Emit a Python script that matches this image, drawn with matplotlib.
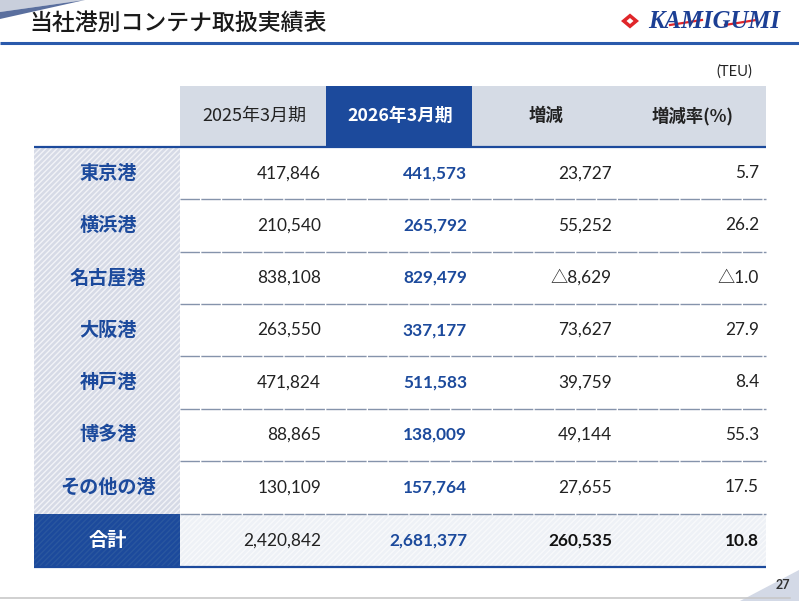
import matplotlib
matplotlib.use("Agg")
import matplotlib.pyplot as plt
from matplotlib.patches import Rectangle, Polygon

plt.rcParams['font.family'] = ['Noto Sans CJK JP', 'DejaVu Sans']

title = "当社港別コンテナ取扱実績表"
unit = "(TEU)"
headers = ["2025年3月期", "2026年3月期", "増減", "増減率(%)"]
ports = ["東京港", "横浜港", "名古屋港", "大阪港", "神戸港", "博多港", "その他の港"]
fy2025 = ["417,846", "210,540", "838,108", "263,550", "471,824", "88,865", "130,109"]
fy2026 = ["441,573", "265,792", "829,479", "337,177", "511,583", "138,009", "157,764"]
change = ["23,727", "55,252", "△8,629", "73,627", "39,759", "49,144", "27,655"]
rate = ["5.7", "26.2", "△1.0", "27.9", "8.4", "55.3", "17.5"]
total_label = "合計"
total_row = ["2,420,842", "2,681,377", "260,535", "10.8"]
page = "27"

DARK = "#1c4a9c"
GRAYHDR = "#d5dbe5"
NUMFONT = ['Lato', 'Noto Sans CJK JP', 'DejaVu Sans']

fig = plt.figure(figsize=(7.99, 6.01), dpi=100)
ax = fig.add_axes([0, 0, 1, 1])
ax.set_xlim(0, 799)
ax.set_ylim(601, 0)
ax.axis('off')

# top-left decoration
ax.add_patch(Polygon([(0, 0), (85, 0), (0, 12)], closed=True, color="#c9cfdc", lw=0))
ax.add_patch(Polygon([(0, 12), (85, 0), (0, 19)], closed=True, color="#5a6f9e", lw=0))

# title
ax.text(29, 23, title, fontsize=16.5, fontweight='medium', color="#1a1a1a", va='center', ha='left')
# header line
ax.plot([0, 799], [43, 43], color="#2a5aac", lw=2.2, solid_capstyle='butt')

# logo
ax.add_patch(Polygon([(621, 21), (630, 13.5), (639, 21), (630, 28.5)], closed=True, color="#e0262a", lw=0))
ax.add_patch(Polygon([(626.5, 21), (630, 18), (633.5, 21), (630, 24)], closed=True, color="white", lw=0))
ax.text(648, 21, "KAMIGUMI", fontsize=17.8, fontweight='bold', fontstyle='italic',
        family=['Liberation Serif', 'DejaVu Serif'], color="#1c3f94", va='center', ha='left')
ax.plot([670, 702], [25, 20], color="#e0262a", lw=1.6)
ax.plot([725, 756], [25, 20], color="#e0262a", lw=1.6)

# unit
ax.text(752, 72, unit, fontsize=10.5, color="#222222", va='center', ha='right', family=NUMFONT)

# table geometry
xs = [34, 180, 326, 472, 620, 766]
hdr_top, hdr_bot = 86, 147
row_h = 52.3
total_top = 514
total_bot = 567
row_edges = [hdr_bot + i * row_h for i in range(len(ports))] + [total_top]

# header cells
hdr_colors = [GRAYHDR, DARK, GRAYHDR, GRAYHDR]
for i in range(4):
    ax.add_patch(Rectangle((xs[i + 1], hdr_top), xs[i + 2] - xs[i + 1], hdr_bot - hdr_top,
                           facecolor=hdr_colors[i], lw=0))
hdr_cx = [254, 400, 546, 693]
for i, h in enumerate(headers):
    if i == 0:
        ax.text(hdr_cx[i], 116, h, fontsize=13, color="#222222", va='center', ha='center')
    elif i == 1:
        ax.text(hdr_cx[i], 116, h, fontsize=12.8, color="white", fontweight='bold', va='center', ha='center')
    else:
        ax.text(hdr_cx[i], 116, h, fontsize=12.5, color="#222222", fontweight='bold', va='center', ha='center')

# left column hatched
plt.rcParams['hatch.linewidth'] = 1.0
ax.add_patch(Rectangle((xs[0], hdr_bot), xs[1] - xs[0], total_top - hdr_bot,
                       facecolor="#d6dae6", edgecolor="#f2f3f7", hatch='//////', lw=0))
# total row
ax.add_patch(Rectangle((xs[0], total_top), xs[1] - xs[0], total_bot - total_top,
                       facecolor=DARK, edgecolor="#2a579f", hatch='//////', lw=0))
ax.add_patch(Rectangle((xs[1], total_top), xs[5] - xs[1], total_bot - total_top,
                       facecolor="#eef1f6", edgecolor="#f8f9fb", hatch='//////', lw=0))

# separators
for y in row_edges[1:]:
    ax.plot([xs[1], xs[5]], [y, y], color="#8593ab", lw=1.0, ls=(0, (14, 1)))
ax.plot([xs[0], xs[5]], [hdr_bot, hdr_bot], color="#1c4a9c", lw=1.6, solid_capstyle='butt')
ax.plot([xs[0], xs[5]], [total_bot, total_bot], color="#1c4a9c", lw=1.6, solid_capstyle='butt')

right_x = [321, 467, 612, 759]
NS = 12.4
for r, port in enumerate(ports):
    cy = row_edges[r] + (row_edges[r + 1] - row_edges[r]) / 2
    ax.text(108, cy, port, fontsize=13.8, color="#1c4a9c", fontweight='bold', va='center', ha='center')
    ax.text(right_x[0], cy, fy2025[r], fontsize=NS, color="#222222", va='center', ha='right', family=NUMFONT)
    ax.text(right_x[1], cy, fy2026[r], fontsize=NS, color="#1c4a9c", fontweight='bold', va='center', ha='right', family=NUMFONT)
    ax.text(right_x[2], cy, change[r], fontsize=NS, color="#222222", va='center', ha='right', family=NUMFONT)
    ax.text(right_x[3], cy, rate[r], fontsize=NS, color="#222222", va='center', ha='right', family=NUMFONT)

cy = (total_top + total_bot) / 2
ax.text(108, cy, total_label, fontsize=13.8, color="white", fontweight='bold', va='center', ha='center')
ax.text(right_x[0], cy, total_row[0], fontsize=NS, color="#222222", va='center', ha='right', family=NUMFONT)
ax.text(right_x[1], cy, total_row[1], fontsize=NS, color="#1c4a9c", fontweight='bold', va='center', ha='right', family=NUMFONT)
ax.text(right_x[2], cy, total_row[2], fontsize=NS, color="#111111", fontweight='bold', va='center', ha='right', family=NUMFONT)
ax.text(right_x[3], cy, total_row[3], fontsize=NS, color="#111111", fontweight='bold', va='center', ha='right', family=NUMFONT)

# bottom decorations
ax.add_patch(Polygon([(740, 601), (799, 570), (799, 601)], closed=True, color="#d3d9e6", lw=0))
ax.plot([0, 790], [598, 598], color="#c8c8c8", lw=1.2)
ax.text(783, 585, page, fontsize=9, color="#333333", fontweight='bold', va='center', ha='center', family=NUMFONT)

fig.savefig("out.png", dpi=100)
